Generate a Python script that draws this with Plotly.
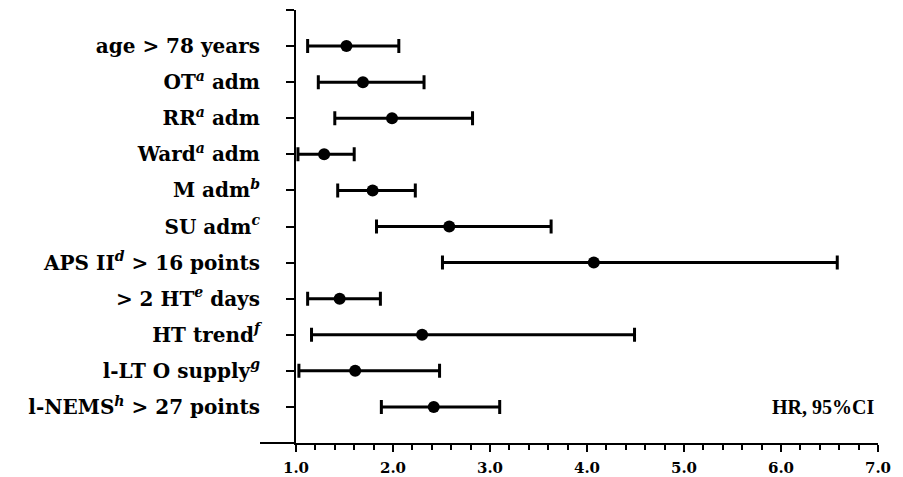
import plotly.graph_objects as go

labels = [
    "age &gt; 78 years",
    "OT<sup><i>a</i></sup> adm",
    "RR<sup><i>a</i></sup> adm",
    "Ward<sup><i>a</i></sup> adm",
    "M adm<sup><i>b</i></sup>",
    "SU adm<sup><i>c</i></sup>",
    "APS II<sup><i>d</i></sup> &gt; 16 points",
    "&gt; 2 HT<sup><i>e</i></sup> days",
    "HT trend<sup><i>f</i></sup>",
    "l-LT O supply<sup><i>g</i></sup>",
    "l-NEMS<sup><i>h</i></sup> &gt; 27 points",
]
hr = [1.52, 1.69, 1.99, 1.29, 1.79, 2.58, 4.07, 1.45, 2.30, 1.61, 2.42]
ci_low = [1.12, 1.23, 1.40, 1.02, 1.43, 1.83, 2.51, 1.12, 1.16, 1.03, 1.88]
ci_high = [2.06, 2.32, 2.82, 1.60, 2.23, 3.63, 6.58, 1.87, 4.49, 2.48, 3.10]
x_ticks = [1, 2, 3, 4, 5, 6, 7]
x_ticktext = ["1.0", "2.0", "3.0", "4.0", "5.0", "6.0", "7.0"]

ypos = list(range(1, len(labels) + 1))

fig = go.Figure()
fig.add_trace(go.Scatter(
    x=hr, y=ypos, mode="markers",
    marker=dict(size=12, color="black"),
    error_x=dict(
        type="data", symmetric=False,
        array=[h - p for h, p in zip(ci_high, hr)],
        arrayminus=[p - l for p, l in zip(hr, ci_low)],
        color="black", thickness=3, width=7,
    ),
    cliponaxis=False,
    showlegend=False,
))

label_font = dict(family="DejaVu Serif", size=20, color="black", weight="bold")

fig.update_layout(
    width=895, height=469,
    margin=dict(l=288, r=25, t=2, b=34),
    paper_bgcolor="white", plot_bgcolor="white",
    xaxis=dict(
        range=[1, 7], showgrid=False, zeroline=False,
        showline=True, linecolor="black", linewidth=2,
        tickmode="array", tickvals=x_ticks, ticktext=x_ticktext,
        ticks="outside", ticklen=7, tickwidth=2, tickcolor="black",
        minor=dict(dtick=0.2, ticks="outside", ticklen=5, tickwidth=2, tickcolor="black", showgrid=False),
        tickfont=dict(family="DejaVu Serif", size=15, color="black", weight="bold"),
        ticklabelstandoff=3, automargin=False,
    ),
    yaxis=dict(
        range=[12, 0], showgrid=False, zeroline=False,
        showline=True, linecolor="black", linewidth=2,
        tickmode="array", tickvals=[0] + ypos, ticktext=[""] + labels,
        ticks="outside", ticklen=8, tickwidth=2, tickcolor="black",
        tickfont=label_font, ticklabelstandoff=22, automargin=False,
    ),
)

# horizontal axis line extends to the left of the vertical axis
fig.add_shape(type="line", xref="paper", yref="paper",
              x0=-36 / 582, x1=0, y0=0, y1=0,
              line=dict(color="black", width=2))

fig.add_annotation(
    text="HR, 95%CI", xref="paper", yref="y", x=0.997, y=11,
    xanchor="right", yanchor="middle", showarrow=False,
    font=dict(family="Liberation Serif", size=20, color="black", weight="bold"),
)

fig.write_html("out.html")
